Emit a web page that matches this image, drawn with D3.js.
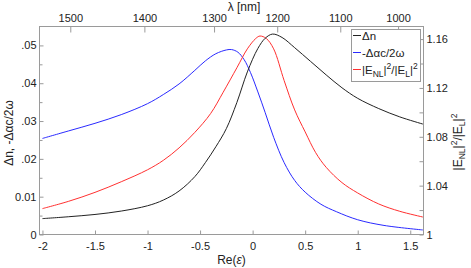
<!DOCTYPE html>
<html><head><meta charset="utf-8">
<script src="https://cdn.jsdelivr.net/npm/d3@7/dist/d3.min.js"></script>
<style>
body{margin:0;background:#fff;}
svg text{font-family:"Liberation Sans",Arial,sans-serif;fill:#222;}
</style></head>
<body><svg id="c" width="471" height="268"></svg>
<script>
// Re(eps) sample points and curve values
const epsBlack = [-2.0,-1.75,-1.5,-1.25,-1.0,-0.85,-0.7,-0.55,-0.45,-0.35,-0.25,-0.15,-0.05,0.05,0.12,0.19,0.28,0.4,0.55,0.7,0.85,1.0,1.2,1.4,1.62];
const deltaN   = [0.0042,0.0047,0.0053,0.0062,0.0076,0.0091,0.0115,0.0153,0.0190,0.0232,0.0280,0.0349,0.0430,0.0492,0.0519,0.0530,0.0521,0.0494,0.0458,0.0422,0.0388,0.0360,0.0333,0.0311,0.0292];

const epsBlue  = [-2.0,-1.75,-1.5,-1.25,-1.0,-0.85,-0.7,-0.55,-0.45,-0.35,-0.25,-0.2,-0.14,-0.08,-0.02,0.05,0.12,0.2,0.3,0.4,0.5,0.65,0.8,1.0,1.25,1.62];
const deltaAlpha = [0.0254,0.0274,0.0294,0.0317,0.0346,0.0370,0.0398,0.0434,0.0459,0.0478,0.0488,0.0489,0.0482,0.0462,0.0428,0.0377,0.0322,0.0257,0.0190,0.0143,0.0112,0.0080,0.0060,0.0039,0.0024,0.0012];

const epsRed   = [-2.0,-1.75,-1.5,-1.25,-1.0,-0.85,-0.7,-0.55,-0.4,-0.28,-0.15,-0.05,0.03,0.07,0.13,0.2,0.3,0.4,0.5,0.6,0.7,0.85,1.0,1.2,1.4,1.62];
const fieldRatio = [1.0212,1.0272,1.0345,1.0432,1.0530,1.0607,1.0709,1.0836,1.0990,1.1165,1.1365,1.1520,1.1605,1.1625,1.1605,1.1520,1.1260,1.1020,1.0840,1.0670,1.0550,1.0425,1.0340,1.0250,1.0190,1.0143];

// tick labels
const xTicks = [-2,-1.5,-1,-0.5,0,0.5,1,1.5];
const leftTicks = [0,0.01,0.02,0.03,0.04,0.05];
const leftTickLabels = ["0","0.01",".02",".03",".04",".05"];
const leftMinor = [0.005,0.015,0.025,0.035,0.045];
const rightTicks = [1,1.04,1.08,1.12,1.16];
const rightTickLabels = ["1","1.04","1.08","1.12","1.16"];
const rightMinor = [1.02,1.06,1.10,1.14];
const lambdaTicks = [1500,1400,1300,1200,1100,1000];
const lambdaEps   = [-1.735,-1.03,-0.367,0.234,0.834,1.384];

const L=39.5,R=423.5,T=26.5,B=234.5;
const svg=d3.select("#c");
const gray="#9a9a9a";

const x=d3.scaleLinear().domain([-2.028,1.626]).range([L,R]);
const yL=d3.scaleLinear().domain([0,0.055]).range([B,T]);
const yR=d3.scaleLinear().domain([1,1.1703]).range([B,T]);
const lam=d3.scaleLinear().domain(lambdaEps).range(lambdaEps.map(e=>x(e)));

function styleAxis(g){
  g.select(".domain").remove();
  g.selectAll(".tick line").attr("stroke",gray);
  g.selectAll(".tick text").attr("fill","#222").style("font-size","11px").style("font-family",'"Liberation Sans",Arial,sans-serif');
}

svg.append("g").attr("transform",`translate(0,${B})`)
  .call(d3.axisBottom(x).tickValues(xTicks).tickSize(-4).tickPadding(8).tickFormat(d=>String(d)))
  .call(styleAxis);
svg.append("g").attr("transform",`translate(0,${T})`)
  .call(d3.axisTop(lam).tickValues(lambdaEps).tickSize(-6).tickPadding(5).tickFormat((d,i)=>lambdaTicks[i]))
  .call(styleAxis);
svg.append("g").attr("transform",`translate(${L},0)`)
  .call(d3.axisLeft(yL).tickValues(leftTicks).tickSize(-4).tickPadding(3).tickFormat((d,i)=>leftTickLabels[i]))
  .call(styleAxis);
svg.append("g").attr("transform",`translate(${L},0)`)
  .call(d3.axisLeft(yL).tickValues(leftMinor).tickSize(-3).tickFormat(""))
  .call(styleAxis);
svg.append("g").attr("transform",`translate(${R},0)`)
  .call(d3.axisRight(yR).tickValues(rightTicks).tickSize(-4).tickPadding(3).tickFormat((d,i)=>rightTickLabels[i]))
  .call(styleAxis);
svg.append("g").attr("transform",`translate(${R},0)`)
  .call(d3.axisRight(yR).tickValues(rightMinor).tickSize(-4).tickFormat(""))
  .call(styleAxis);

svg.append("rect").attr("x",L).attr("y",T).attr("width",R-L).attr("height",B-T)
  .attr("fill","none").attr("stroke",gray);

svg.append("clipPath").attr("id","pc").append("rect").attr("x",L).attr("y",T).attr("width",R-L).attr("height",B-T);
const plot=svg.append("g").attr("clip-path","url(#pc)");
function line(xs,ys,ys_scale,color){
  const gen=d3.line().x(d=>x(d[0])).y(d=>ys_scale(d[1])).curve(d3.curveCatmullRom.alpha(0.5));
  plot.append("path").attr("d",gen(xs.map((e,i)=>[e,ys[i]]))).attr("fill","none").attr("stroke",color).attr("stroke-width",1);
}
line(epsBlue,deltaAlpha,yL,"#2a2aff");
line(epsRed,fieldRatio,yR,"#ff3030");
line(epsBlack,deltaN,yL,"#222");

// legend
const lg=svg.append("g");
lg.append("rect").attr("x",351.5).attr("y",29.5).attr("width",69).attr("height",52).attr("fill","#fff").attr("stroke",gray);
const rows=[{c:"#222",y:35},{c:"#2a2aff",y:52},{c:"#ff3030",y:69}];
rows.forEach(r=>lg.append("line").attr("x1",353).attr("x2",361).attr("y1",r.y+0.5).attr("y2",r.y+0.5).attr("stroke",r.c));
const fs="11.5px";
lg.append("text").attr("x",362).attr("y",39.5).style("font-size",fs).text("Δn");
lg.append("text").attr("x",362).attr("y",56.5).style("font-size",fs).text("-Δαc/2ω");
function fieldText(t){
  t.append("tspan").text("|E");
  t.append("tspan").attr("dy",3).style("font-size","8.5px").text("NL");
  t.append("tspan").attr("dy",-3).text("|");
  t.append("tspan").attr("dy",-5).style("font-size","8.5px").text("2");
  t.append("tspan").attr("dy",5).text("/|E");
  t.append("tspan").attr("dy",3).style("font-size","8.5px").text("L");
  t.append("tspan").attr("dy",-3).text("|");
  t.append("tspan").attr("dy",-5).style("font-size","8.5px").text("2");
}
fieldText(lg.append("text").attr("x",362).attr("y",73.5).style("font-size",fs));

// axis titles
svg.append("text").attr("x",(L+R)/2).attr("y",264).attr("text-anchor","middle").style("font-size","12px")
  .html('Re(<tspan font-style="italic">ε</tspan>)');
svg.append("text").attr("x",244).attr("y",11).attr("text-anchor","middle").style("font-size","12px").text("λ [nm]");
svg.append("text").attr("transform","translate(13,133) rotate(-90)").attr("text-anchor","middle").style("font-size","12px").text("Δn, -Δαc/2ω");
fieldText(svg.append("text").attr("transform","translate(462,142) rotate(-90)").attr("text-anchor","middle").style("font-size","12px"));
</script></body></html>
